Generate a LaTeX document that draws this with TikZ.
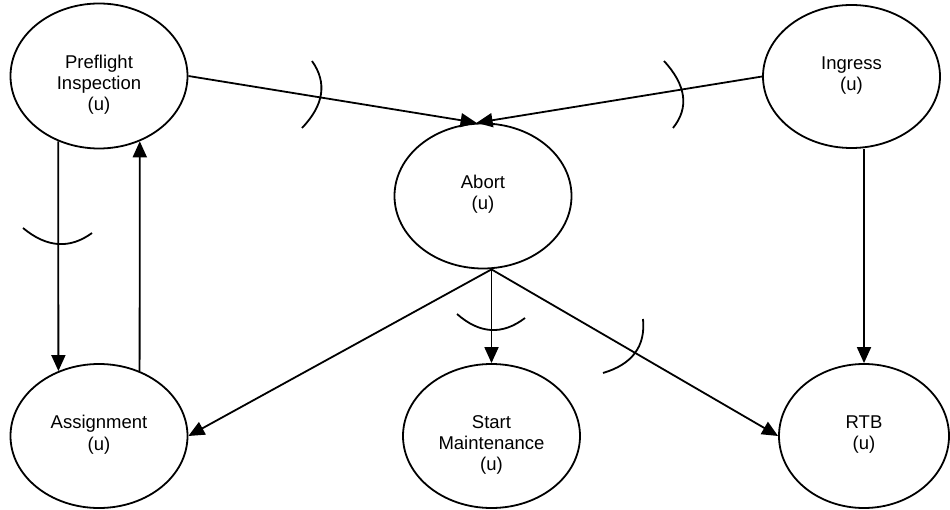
\documentclass[tikz,border=0pt]{standalone}
\usepackage{fontspec}
\setmainfont{Liberation Sans}
\usetikzlibrary{shapes.geometric}
\usetikzlibrary{arrows.meta}
\usetikzlibrary{positioning}

\begin{document}
\begin{tikzpicture}[x=1pt, y=-1pt,
        task/.style = {draw, ellipse, line width=1.8pt, inner sep=0pt,
            minimum width=177pt, minimum height=145pt},
        tasktext/.style = {align=center, inner sep=0pt,
            font=\fontsize{18.5}{21.3}\selectfont},
        link/.style = {line width=1.8pt, -{Triangle[length=16pt, width=14pt]}},
        orarc/.style = {line width=1.8pt}]
        \useasboundingbox (0, 0) rectangle (950, 510);

        % states
        \node [task] (pre) at (99, 76) {};
        \node [task] (abort) at (483, 196) {};
        \node [task, minimum height=143pt] (ing) at (851.5, 76.5) {};
        \node [task, minimum height=144pt] (asg) at (99, 436) {};
        \node [task, minimum height=144pt] (start) at (491.5, 436) {};
        \node [task, minimum width=170pt, minimum height=144pt] (rtb) at (864, 436) {};

        \node [tasktext, below=52pt of pre.north] (pretext) {Preflight\\Inspection\\(u)};
        \node [tasktext, below=52pt of abort.north] (aborttext) {Abort\\(u)};
        \node [tasktext, below=52pt of ing.north] (ingtext) {Ingress\\(u)};
        \node [tasktext, below=52pt of asg.north] (asgtext) {Assignment\\(u)};
        \node [tasktext, below=52pt of start.north] (starttext) {Start\\Maintenance\\(u)};
        \node [tasktext, below=52pt of rtb.north] (rtbtext) {RTB\\(u)};

        % transitions
        \draw [link] (pre.east) -- (abort.95);
        \draw [link] (ing.west) -- (abort.95);
        \draw [link] (pre.238) -- (asg.122);
        \draw [link] (asg.58) -- (pre.302);
        \coordinate (fork) at (start.north |- abort.south);
        \draw [link] (fork) -- (asg.east);
        \draw [link] (fork) -- (start.north);
        \draw [link] (fork) -- (rtb.west);
        \draw [link] (ing.south -| rtb.north) -- (rtb.north);

        % arcs
        \draw [orarc] (312, 61) .. controls (327.3, 82.7) and (324, 105) .. (302, 128);
        \draw [orarc] (664, 61) .. controls (686.3, 85.3) and (689.3, 107.7) .. (673, 128);
        \draw [orarc] (23, 228) .. controls (46.7, 247.7) and (69.7, 249.3) .. (92, 233);
        \draw [orarc] (457, 314) .. controls (479.7, 334) and (502.3, 335.3) .. (525, 318);
        \draw [orarc] (643, 319) .. controls (645.7, 346.3) and (632.3, 364.3) .. (603, 373);
\end{tikzpicture}
\end{document}
